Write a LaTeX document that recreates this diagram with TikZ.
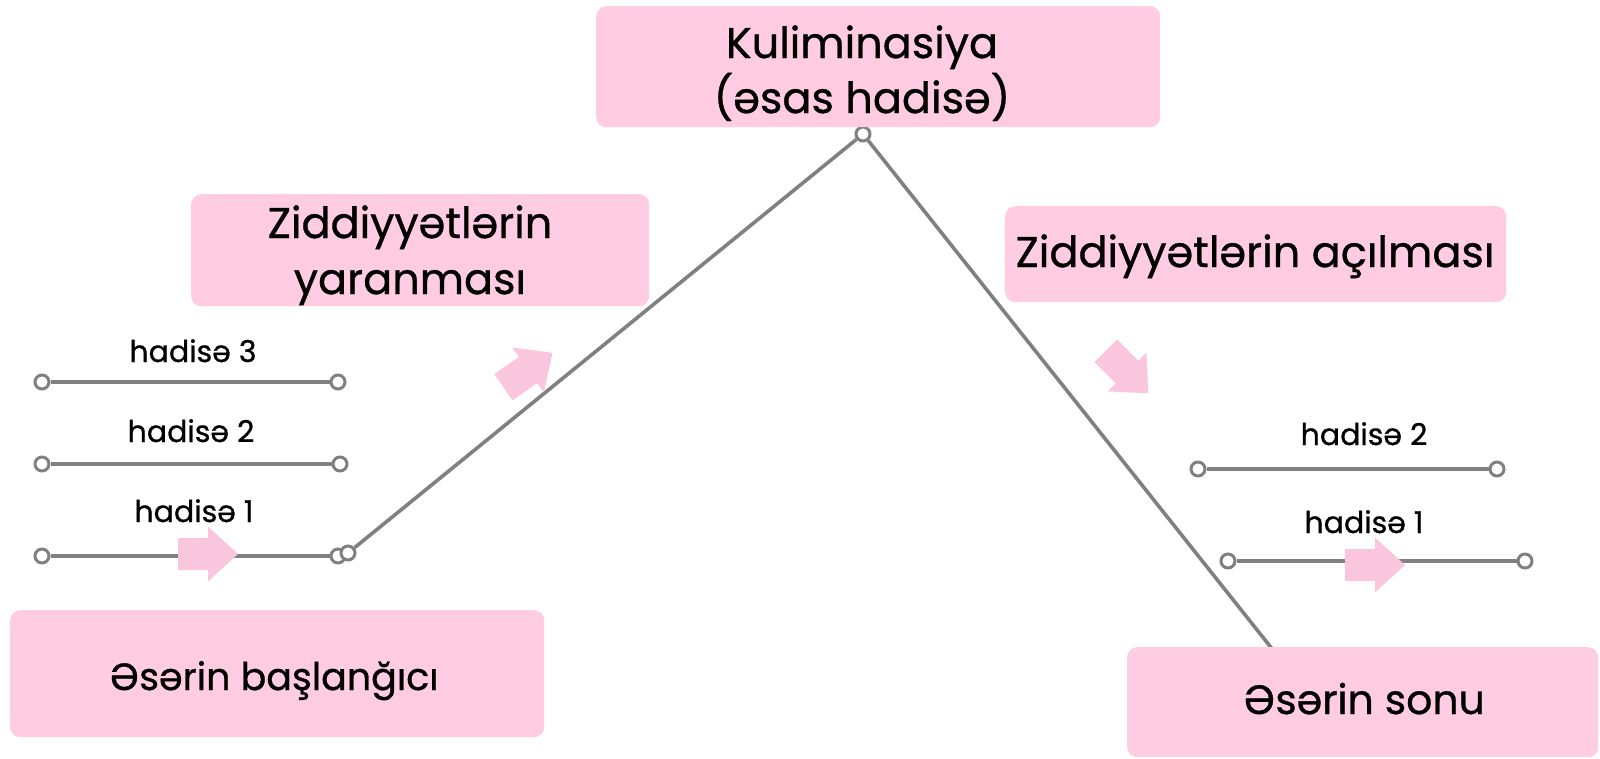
\documentclass[tikz,border=0pt]{standalone}
\usepackage{fontspec}
\setmainfont{Poppins}[FakeBold=0.8]
\definecolor{boxpink}{RGB}{255,204,225}
\definecolor{arrpink}{RGB}{250,198,222}
\definecolor{linegray}{RGB}{128,128,128}
\begin{document}
\begin{tikzpicture}[x=1pt,y=-1pt,
  pinkbox/.style={fill=boxpink, rounded corners=10pt, draw=none, inner sep=0pt, anchor=north west},
  bigtext/.style={font=\fontsize{43}{52}\selectfont, anchor=base, inner sep=0pt},
  smalltext/.style={font=\fontsize{30}{34}\selectfont, anchor=base, inner sep=0pt},
  endpt/.style={circle, draw=linegray, fill=white, line width=3pt, minimum size=14pt, inner sep=0pt},
  conn/.style={draw=linegray, line width=3.6pt},
  blockarrow/.pic={\fill[arrpink] (-30,-16) -- (0,-16) -- (0,-27.5) -- (30,0) -- (0,27.5) -- (0,16) -- (-30,16) -- cycle;}
]
\useasboundingbox (0,0) rectangle (1600,758);

% end points
\node[endpt] (l3a) at (42,382) {};
\node[endpt] (l3b) at (338,382) {};
\node[endpt] (l2a) at (42,464) {};
\node[endpt] (l2b) at (340,464) {};
\node[endpt] (l1a) at (42,556) {};
\node[endpt] (l1b) at (338,556) {};
\node[endpt] (rise) at (348,553) {};
\node[endpt] (peak) at (863,134) {};
\node[endpt] (r2a) at (1198,469) {};
\node[endpt] (r2b) at (1497,469) {};
\node[endpt] (r1a) at (1228,561) {};
\node[endpt] (r1b) at (1525,561) {};
\coordinate (fallend) at (1273,650);

% connectors
\draw[conn] (l3a) -- (l3b);
\draw[conn] (l2a) -- (l2b);
\draw[conn] (l1a) -- (l1b);
\draw[conn] (rise) -- (peak);
\draw[conn] (peak) -- (fallend);
\draw[conn] (r2a) -- (r2b);
\draw[conn] (r1a) -- (r1b);

% boxes
\node[pinkbox, minimum width=564pt, minimum height=121pt] (kulbox) at (596,6) {};
\node[pinkbox, minimum width=458pt, minimum height=112pt] (yarbox) at (191,194) {};
\node[pinkbox, minimum width=501pt, minimum height=96pt] (acbox) at (1005,206) {};
\node[pinkbox, minimum width=534pt, minimum height=127pt] (basbox) at (10,610) {};
\node[pinkbox, minimum width=471pt, minimum height=110pt] (sonbox) at (1127,647) {};

% pink arrows
\pic at (208,554) {blockarrow};
\pic at (1375,565) {blockarrow};
\pic[rotate=35] at (528,370) {blockarrow};
\pic[rotate=-45] at (1127,372) {blockarrow};

% texts
\node[bigtext] (kul1) at (862,58) {Kuliminasiya};
\node[bigtext] (kul2) at (862,113) {(əsas hadisə)};
\node[bigtext] (yar1) at (410,238) {Ziddiyyətlərin};
\node[bigtext] (yar2) at (410,294) {yaranması};
\node[bigtext] (ac) at (1255,267) {Ziddiyyətlərin açılması};
\node[bigtext, font=\fontsize{38}{46}\selectfont] (bas) at (274,690) {Əsərin başlanğıcı};
\node[bigtext, font=\fontsize{41}{48}\selectfont] (son) at (1364,714) {Əsərin sonu};

\node[smalltext] (h3l) at (193,362) {hadisə 3};
\node[smalltext] (h2l) at (191,442) {hadisə 2};
\node[smalltext] (h1l) at (194,522) {hadisə 1};
\node[smalltext] (h2r) at (1364,445) {hadisə 2};
\node[smalltext] (h1r) at (1364,533) {hadisə 1};
\end{tikzpicture}
\end{document}
